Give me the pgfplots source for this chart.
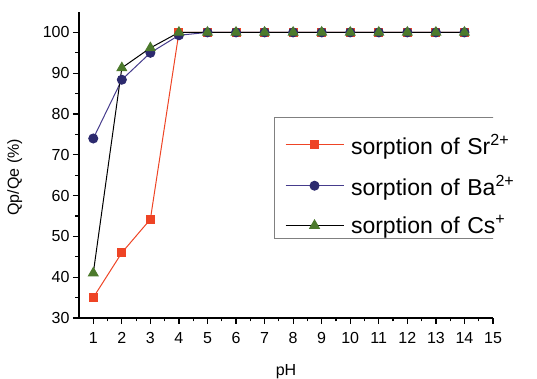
\documentclass[border=0pt]{standalone}
\usepackage{fontspec}
\setmainfont{Liberation Sans}
\usepackage{pgfplots}
\pgfplotsset{compat=1.18}
\definecolor{srred}{HTML}{EE4425}
\definecolor{banavy}{HTML}{2C2A6E}
\definecolor{baline}{HTML}{463C8C}
\definecolor{csgreen}{HTML}{4C7A2C}
\begin{document}
\begin{tikzpicture}
\begin{axis}[
  at={(0pt,0pt)}, anchor=south west,
  scale only axis, width=414pt, height=306pt,
  xmin=0.5, xmax=15, ymin=30, ymax=105,
  axis x line*=bottom, axis y line*=left,
  axis line style={-, line width=1.3pt},
  xtick={1,...,15}, ytick={30,40,...,100},
  minor x tick num=1, minor y tick num=1,
  tick align=outside,
  major tick length=6pt, minor tick length=3.5pt,
  every tick/.style={line width=1.2pt, black},
  /pgf/number format/assume math mode=true,
  ticklabel style={font=\fontsize{16}{19}\selectfont},
  xticklabel style={yshift=-5pt},
  xlabel={pH}, ylabel={Qp/Qe (\%)},
  label style={font=\fontsize{16}{19}\selectfont},
  xlabel style={at={(axis description cs:0.5,-0.175)}, anchor=center},
  ylabel style={at={(axis description cs:-0.155,0.46)}, anchor=center},
  legend style={at={(axis description cs:0.473,0.641)}, anchor=north west,
    draw=none, fill=none, font=\fontsize{23}{27}\selectfont,
    row sep=15pt, inner xsep=10pt, inner ysep=10pt, text width=200pt},
  legend cell align=left,
  legend image code/.code={\draw[mark repeat=2,mark phase=2] plot coordinates {(0pt,0pt)(29pt,0pt)(58pt,0pt)};},
]
\addplot[srred, line width=1pt, mark=square*, mark size=4pt, mark options={fill=srred, draw=srred}]
coordinates {(1,35) (2,46) (3,54.2) (4,100) (5,100) (6,100) (7,100) (8,100) (9,100) (10,100) (11,100) (12,100) (13,100) (14,100)};
\addlegendentry{\hspace*{5pt}sorption of Sr\textsuperscript{2+}}
\addplot[baline, line width=1pt, mark=*, mark size=4.5pt, mark options={fill=banavy, draw=banavy}]
coordinates {(1,74) (2,88.4) (3,95) (4,99.3) (5,100) (6,100) (7,100) (8,100) (9,100) (10,100) (11,100) (12,100) (13,100) (14,100)};
\addlegendentry{\hspace*{5pt}sorption of Ba\textsuperscript{2+}}
\addplot[black, line width=1pt, mark=triangle*, mark size=5.5pt, mark options={fill=csgreen, draw=csgreen}]
coordinates {(1,41) (2,91.3) (3,96.2) (4,100) (5,100) (6,100) (7,100) (8,100) (9,100) (10,100) (11,100) (12,100) (13,100) (14,100)};
\addlegendentry{\hspace*{5pt}sorption of Cs\textsuperscript{+}}
\draw[gray, line width=0.8pt] (axis description cs:0.473,0.657) rectangle (axis description cs:1.12,0.261);
\end{axis}
\pgfresetboundingbox
\path (-79pt,-61pt) rectangle (458pt,318pt);
\end{tikzpicture}
\end{document}
